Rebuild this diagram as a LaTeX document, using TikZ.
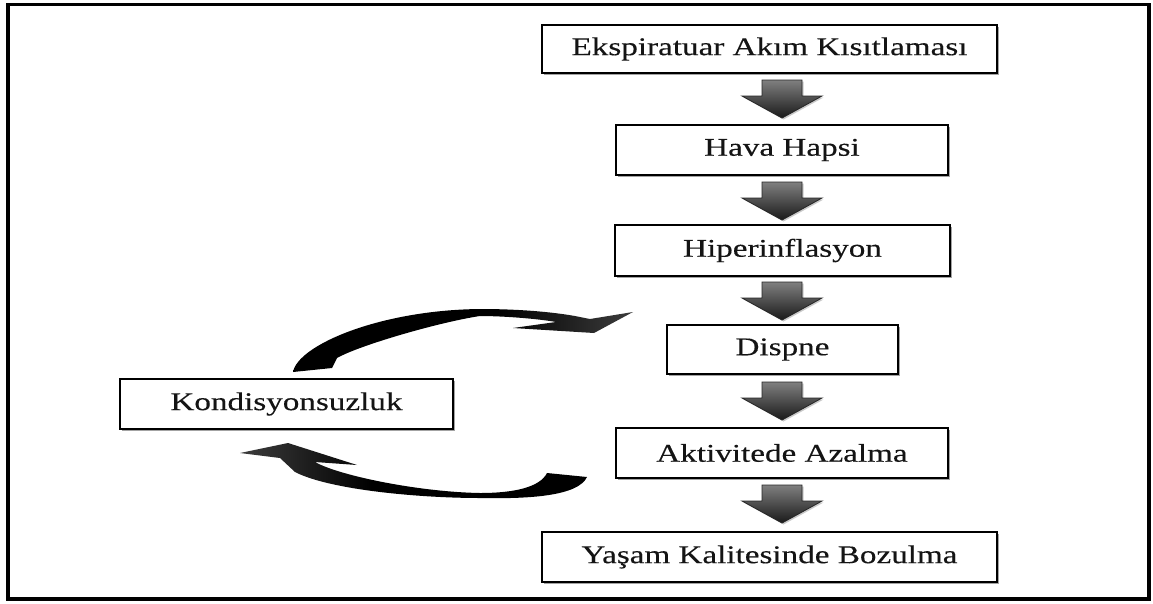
\documentclass[tikz,border=0pt]{standalone}
\usepackage{fontspec}
\setmainfont[FakeStretch=1.3, FakeBold=0.3]{Liberation Serif}
\usetikzlibrary{shadows}
\pgfdeclarehorizontalshading{upcurve}{100bp}{color(0bp)=(black); color(55bp)=(black); color(76bp)=(black!75); color(88bp)=(black!62); color(100bp)=(black!78)}
\pgfdeclarehorizontalshading{lowcurve}{100bp}{color(0bp)=(black!78); color(10bp)=(black!62); color(24bp)=(black!75); color(44bp)=(black); color(100bp)=(black)}
\tikzset{
  box/.style={draw=black, line width=1.4pt, fill=white, rectangle, inner sep=0pt,
    font=\fontsize{25.5}{28}\selectfont, text=black!92,
    drop shadow={shadow xshift=2pt, shadow yshift=-2pt, fill=black!45, opacity=0.8}},
  blockarrow/.style={draw=black!85, line width=0.8pt, top color=black!50, bottom color=black!90,
    drop shadow={shadow xshift=1.5pt, shadow yshift=-1.5pt, fill=black!35, opacity=0.6}},
  downarr/.pic={\path[blockarrow] (-20,0) -- (20,0) -- (20,16) -- (40,16) -- (0,38) -- (-40,16) -- (-20,16) -- cycle;}
}
\begin{document}
\begin{tikzpicture}[x=1pt, y=-1pt]
\useasboundingbox (0,0) rectangle (1153,603);
\fill[white] (0,0) rectangle (1153,603);
% outer frame
\draw[line width=3.5pt, black] (8,4.5) rectangle (1149,599);

% boxes
\node[box, minimum width=455pt, minimum height=48pt] (b1) at (769.5,49) {Ekspiratuar Akım Kısıtlaması};
\node[box, minimum width=332pt, minimum height=50pt] (b2) at (782,150) {Hava Hapsi};
\node[box, minimum width=335pt, minimum height=51pt] (b3) at (782.5,250.5) {Hiperinflasyon};
\node[box, minimum width=231pt, minimum height=49pt] (b4) at (782.5,349.5) {Dispne};
\node[box, minimum width=332pt, minimum height=50pt] (b5) at (782,453) {Aktivitede Azalma};
\node[box, minimum width=455pt, minimum height=50pt] (b6) at (769.5,557) {Yaşam Kalitesinde Bozulma};
\node[box, minimum width=333pt, minimum height=50pt] (k) at (286.5,404) {Kondisyonsuzluk};

% block arrows
\pic at (782,80) {downarr};
\pic at (782,182) {downarr};
\pic at (782,282) {downarr};
\pic at (782,382) {downarr};
\pic at (782,485) {downarr};

% upper curved arrow: Kondisyonsuzluk -> Dispne
\shade[shading=upcurve]
  (293,372) .. controls (298,345) and (380,310) .. (480,309)
  .. controls (520,309) and (552,312) .. (575,316) -- (590,319) -- (633,312)
  -- (594,333) -- (513,328) -- (556,322)
  .. controls (540,319) and (505,316) .. (480,316)
  .. controls (440,322) and (360,345) .. (337,358) -- (332,368) -- cycle;

% lower curved arrow: Aktivitede Azalma -> Kondisyonsuzluk
\shade[shading=lowcurve]
  (547,473) -- (587,477) .. controls (578,496) and (530,499) .. (480,498)
  .. controls (420,498) and (330,490) .. (295,472) -- (280,458) -- (240,453)
  -- (288,443) -- (357,465) -- (315,462)
  .. controls (340,476) and (420,492) .. (480,493)
  .. controls (515,493) and (540,487) .. (547,473) -- cycle;
\end{tikzpicture}
\end{document}
